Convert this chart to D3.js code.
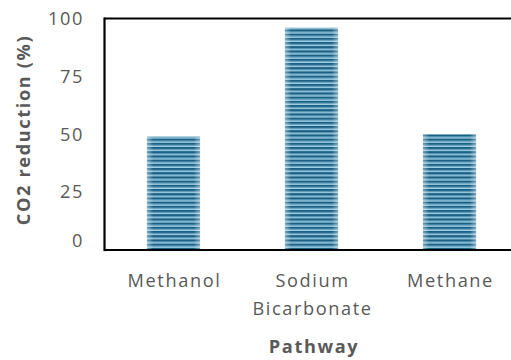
<!DOCTYPE html>
<html>
<head>
<meta charset="utf-8">
<script src="https://cdn.jsdelivr.net/npm/d3@7"></script>
<style>
  html, body { margin: 0; padding: 0; background: #fff; }
  svg { display: block; }
  text { font-family: "Open Sans", "Noto Sans", sans-serif; fill: #595959; }
</style>
</head>
<body>
<svg id="chart" width="511" height="360"></svg>
<script>
// Pathways and their CO2 reduction (%)
const categories = ["Methanol", "Sodium Bicarbonate", "Methane"];
const categoryLines = [["Methanol"], ["Sodium", "Bicarbonate"], ["Methane"]];
const reduction = [49, 96, 50];
const yTicks = [0, 25, 50, 75, 100];

const svg = d3.select("#chart");
const plotLeft = 104.5, plotTop = 18.5, plotBottom = 250, step = 138;
const fontSize = "18.2px", tracking = "1.6px";

const x = d3.scaleBand()
  .domain(categories)
  .range([plotLeft, plotLeft + step * categories.length])
  .paddingInner(0.615)
  .paddingOuter(0.3075);

const y = d3.scaleLinear().domain([0, 100]).range([plotBottom, plotTop]);

// Striped bar fill: horizontal dark/light bands with a soft glow at the sides
const defs = svg.append("defs");
const pat = defs.append("pattern")
  .attr("id", "stripes")
  .attr("patternUnits", "userSpaceOnUse")
  .attr("width", 8).attr("height", 4.2);
pat.append("rect").attr("width", 8).attr("height", 4.2).attr("fill", "#a3d0e4");
pat.append("rect").attr("y", 0).attr("width", 8).attr("height", 2.2).attr("fill", "#1b5f82");
pat.append("rect").attr("y", 2.2).attr("width", 8).attr("height", 0.8).attr("fill", "#4f93b4");

const glow = defs.append("linearGradient").attr("id", "sideGlow")
  .attr("x1", "0").attr("x2", "1").attr("y1", "0").attr("y2", "0");
glow.append("stop").attr("offset", "0").attr("stop-color", "#ffffff").attr("stop-opacity", 0.4);
glow.append("stop").attr("offset", "0.12").attr("stop-color", "#ffffff").attr("stop-opacity", 0);
glow.append("stop").attr("offset", "0.88").attr("stop-color", "#ffffff").attr("stop-opacity", 0);
glow.append("stop").attr("offset", "1").attr("stop-color", "#ffffff").attr("stop-opacity", 0.4);

const bars = svg.append("g");
bars.selectAll("rect.bar")
  .data(reduction)
  .join("rect")
  .attr("class", "bar")
  .attr("x", (d, i) => x(categories[i]))
  .attr("y", d => y(d))
  .attr("width", x.bandwidth())
  .attr("height", d => y(0) - y(d))
  .attr("fill", "url(#stripes)");
bars.selectAll("rect.glow")
  .data(reduction)
  .join("rect")
  .attr("class", "glow")
  .attr("x", (d, i) => x(categories[i]))
  .attr("y", d => y(d))
  .attr("width", x.bandwidth())
  .attr("height", d => y(0) - y(d))
  .attr("fill", "url(#sideGlow)");

// Y axis labels (the zero label sits just above the baseline)
const yAxis = d3.axisLeft(y).tickValues(yTicks).tickSize(0).tickPadding(20.5);
const gy = svg.append("g").attr("transform", `translate(${plotLeft},0)`).call(yAxis);
gy.select(".domain").remove();
gy.selectAll("text")
  .style("font-family", '"Open Sans", "Noto Sans", sans-serif')
  .style("font-size", fontSize)
  .style("letter-spacing", tracking)
  .attr("fill", "#595959");
gy.selectAll(".tick").filter(d => d === 0).select("text").attr("y", -9);

// Frame lines: left, top and bottom
const frame = svg.append("g").attr("stroke", "#000").attr("stroke-width", 2.2).attr("fill", "none");
frame.append("line").attr("x1", plotLeft).attr("x2", plotLeft).attr("y1", plotTop - 1.1).attr("y2", plotBottom + 1.1);
frame.append("line").attr("x1", plotLeft).attr("x2", 511).attr("y1", plotTop).attr("y2", plotTop);
frame.append("line").attr("x1", plotLeft).attr("x2", 511).attr("y1", plotBottom).attr("y2", plotBottom);

// Category labels
const cat = svg.append("g");
categoryLines.forEach((lines, i) => {
  const cx = x(categories[i]) + x.bandwidth() / 2 + 1;
  const t = cat.append("text")
    .attr("text-anchor", "middle")
    .style("font-size", fontSize)
    .style("letter-spacing", tracking);
  lines.forEach((ln, j) => {
    t.append("tspan").attr("x", cx).attr("y", 287 + j * 28).text(ln);
  });
});

// Axis titles
svg.append("text")
  .attr("x", 314).attr("y", 353)
  .attr("text-anchor", "middle")
  .style("font-size", fontSize)
  .style("font-weight", "bold")
  .style("letter-spacing", tracking)
  .text("Pathway");

svg.append("text")
  .attr("transform", "translate(30,130) rotate(-90)")
  .attr("text-anchor", "middle")
  .style("font-size", fontSize)
  .style("font-weight", "bold")
  .style("letter-spacing", tracking)
  .text("CO2 reduction (%)");
</script>
</body>
</html>
